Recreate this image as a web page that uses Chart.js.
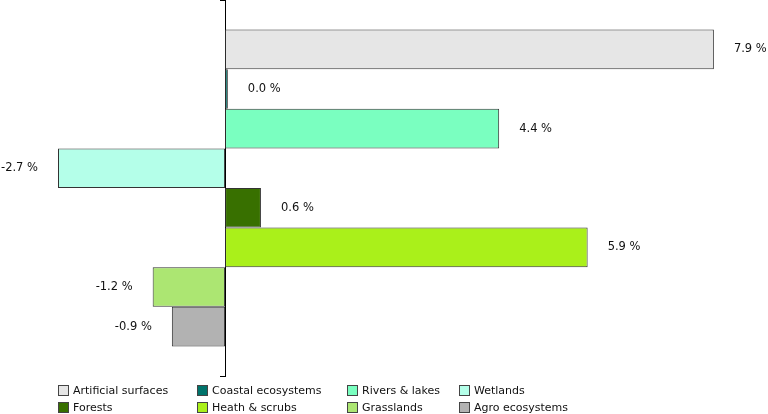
<!DOCTYPE html>
<html>
<head>
<meta charset="utf-8">
<script src="https://cdn.jsdelivr.net/npm/chart.js@4/dist/chart.umd.min.js"></script>
<style>
  html, body { margin: 0; padding: 0; background: #fff; }
  #wrap { position: relative; width: 768px; height: 414px; }
  #legend {
    position: absolute; left: 58px; top: 382px;
    display: grid; grid-template-columns: 139px 150px 112px auto;
    grid-auto-rows: 17px;
    font-family: "DejaVu Sans", Verdana, sans-serif; font-size: 11px; color: #111;
  }
  .item { display: flex; align-items: center; white-space: nowrap; }
  .box { width: 9px; height: 9px; border: 1px solid #444; margin-right: 4px; flex: none; }
</style>
</head>
<body>
<div id="wrap">
  <canvas id="c" width="768" height="414"></canvas>
  <div id="legend"></div>
</div>
<script>
const categories = ["Artificial surfaces", "Coastal ecosystems", "Rivers & lakes", "Wetlands",
                    "Forests", "Heath & scrubs", "Grasslands", "Agro ecosystems"];
const values = [7.9, 0.045, 4.43, -2.7, 0.58, 5.86, -1.17, -0.86];
const colors = ["#e6e6e6", "#00736b", "#7affc0", "#b4ffe9", "#387000", "#aaf01a", "#ace672", "#b2b2b2"];

const datasets = categories.map((name, i) => ({
  label: name,
  data: [values[i]],
  backgroundColor: colors[i],
  borderColor: "#333333",
  borderWidth: 1,
  borderSkipped: false,
  categoryPercentage: 0.843,
  barPercentage: 1.0
}));

const valueLabels = {
  id: "valueLabels",
  afterDatasetsDraw(chart) {
    const ctx = chart.ctx;
    ctx.save();
    ctx.font = '11.5px "DejaVu Sans", Verdana, sans-serif';
    ctx.fillStyle = "#111";
    ctx.textBaseline = "middle";
    chart.data.datasets.forEach((ds, i) => {
      const el = chart.getDatasetMeta(i).data[0];
      const v = ds.data[0];
      const txt = v.toFixed(1) + " %";
      if (v >= 0) {
        ctx.textAlign = "left";
        ctx.fillText(txt, el.x + 20, el.y);
      } else {
        ctx.textAlign = "right";
        ctx.fillText(txt, el.x - 20, el.y);
      }
    });
    ctx.restore();
  }
};

new Chart(document.getElementById("c"), {
  type: "bar",
  data: { labels: [""], datasets },
  options: {
    indexAxis: "y",
    responsive: false,
    animation: false,
    layout: { padding: { left: 8.5, right: 17, top: 0, bottom: 38 } },
    plugins: { legend: { display: false }, tooltip: { enabled: false } },
    scales: {
      x: { display: false, min: -3.5, max: 8.5 },
      y: {
        position: { x: 0 },
        grid: { drawOnChartArea: false, drawTicks: true, tickLength: 5, color: "#000", offset: true },
        border: { display: true, color: "#000", width: 1 },
        ticks: { display: false }
      }
    }
  },
  plugins: [valueLabels]
});

const legend = document.getElementById("legend");
categories.forEach((name, i) => {
  const item = document.createElement("div");
  item.className = "item";
  const box = document.createElement("span");
  box.className = "box";
  box.style.background = colors[i];
  const t = document.createElement("span");
  t.textContent = name;
  item.appendChild(box);
  item.appendChild(t);
  legend.appendChild(item);
});
</script>
</body>
</html>
